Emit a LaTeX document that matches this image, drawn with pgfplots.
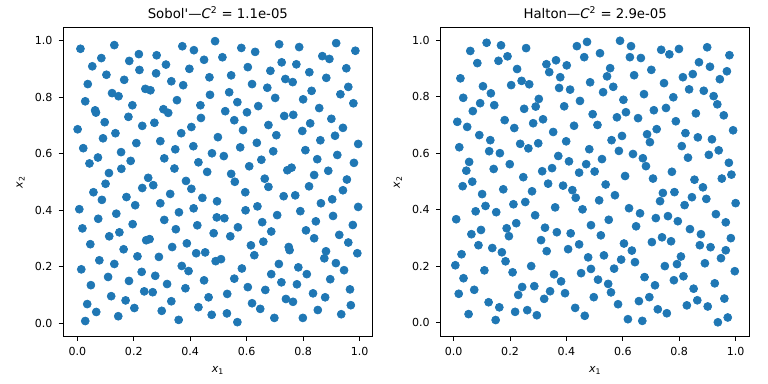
\documentclass[border=0pt]{standalone}
\usepackage{fontspec}
\setmainfont{DejaVu Sans}
\newfontfamily\dvplain{DejaVu Sans}
\usepackage{pgfplots}
\pgfplotsset{compat=1.18}
\definecolor{mplblue}{HTML}{1F77B4}
\pgfplotsset{
  every axis title/.style={at={(axis description cs:0.5,1.0302)}, anchor=base, inner sep=0pt, font=\fontsize{10}{12}\selectfont},
  qmc/.style={
    scale only axis, width=231.8bp, height=231.5bp,
    anchor=south west,
    axis line style={line width=0.8bp, black},
    tick style={line width=0.8bp, black},
    major tick length=3.5bp,
    tick align=outside,
    tick pos=left,
    xtick={0,0.2,0.4,0.6,0.8,1.0},
    ytick={0,0.2,0.4,0.6,0.8,1.0},
    /pgf/number format/.cd, fixed, fixed zerofill, precision=1, assume math mode=true, /pgfplots/.cd,
    ticklabel style={font=\fontsize{8.33}{10}\selectfont},
    xticklabel style={inner sep=0pt, anchor=north, yshift=-4.75bp},
    yticklabel style={inner sep=0pt, anchor=east, xshift=-4.5bp},
    label style={font=\fontsize{8.33}{10}\selectfont},
    xlabel style={at={(axis description cs:0.5,-0.1166)}, anchor=base},
    ylabel style={at={(axis description cs:-0.1316,0.5)}, anchor=base},
    xlabel={\textit{x}\textsubscript{1}},
    ylabel={\textit{x}\textsubscript{2}},
  },
  pts/.style={only marks, color=mplblue, mark=*, mark size=3bp, mark options={fill=mplblue, draw=mplblue, line width=0.5bp}},
}
\begin{document}
\begin{tikzpicture}
\useasboundingbox (0,0) rectangle (576bp,288bp);
\begin{axis}[qmc, at={(47.5bp,35.8bp)},
  xmin=-0.0496, xmax=1.0454, ymin=-0.046, ymax=1.047,
  title={Sobol{\dvplain '}—\textit{C}\textsuperscript{2} = 1.1e-05}]
\addplot[pts] coordinates {
(0.488,0.999) (0.011,0.972) (0.131,0.985) (0.372,0.981) (0.413,0.967) (0.218,0.953) (0.085,0.939) (0.281,0.949) (0.184,0.929) (0.449,0.933) (0.053,0.910) (0.314,0.916) (0.220,0.897) (0.397,0.901) (0.103,0.880) (0.279,0.885) (0.468,0.871) (0.166,0.862) (0.333,0.857) (0.037,0.847) (0.375,0.843) (0.241,0.830) (0.259,0.825) (0.123,0.815) (0.146,0.804) (0.470,0.809) (0.028,0.786) (0.353,0.790) (0.195,0.772) (0.436,0.772) (0.063,0.754) (0.066,0.746) (0.305,0.758) (0.322,0.745) (0.181,0.731) (0.438,0.727) (0.097,0.712) (0.273,0.710) (0.230,0.699) (0.404,0.695) (0.001,0.687) (0.135,0.673) (0.368,0.673) (0.498,0.659) (0.091,0.655) (0.294,0.645) (0.209,0.638) (0.021,0.620) (0.411,0.627) (0.347,0.616) (0.155,0.606) (0.477,0.602) (0.073,0.587) (0.308,0.584) (0.043,0.566) (0.189,0.575) (0.429,0.570) (0.344,0.548) (0.156,0.547) (0.112,0.532) (0.460,0.536) (0.251,0.515) (0.385,0.504)
(0.581,0.975) (0.630,0.961) (0.715,0.988) (0.786,0.978) (0.917,0.992) (0.985,0.965) (0.514,0.942) (0.868,0.946) (0.893,0.936) (0.724,0.924) (0.776,0.917) (0.604,0.907) (0.684,0.894) (0.953,0.903) (0.545,0.878) (0.822,0.889) (0.737,0.865) (0.763,0.854) (0.882,0.869) (0.619,0.847) (0.673,0.834) (0.960,0.837) (0.538,0.818) (0.830,0.823) (0.932,0.811) (0.701,0.798) (0.800,0.793) (0.567,0.783) (0.641,0.769) (0.978,0.779) (0.524,0.751) (0.601,0.747) (0.857,0.762) (0.733,0.734) (0.765,0.738) (0.556,0.719) (0.900,0.724) (0.825,0.708) (0.677,0.702) (0.941,0.692) (0.587,0.684) (0.797,0.681) (0.705,0.666) (0.913,0.664) (0.861,0.648) (0.636,0.639) (0.995,0.635) (0.577,0.623) (0.808,0.613) (0.694,0.609) (0.519,0.592) (0.921,0.596) (0.652,0.579) (0.850,0.581) (0.980,0.568) (0.609,0.556) (0.744,0.542) (0.759,0.551) (0.889,0.540) (0.545,0.529) (0.839,0.525) (0.955,0.509) (0.664,0.512) (0.558,0.501)
(0.057,0.464) (0.100,0.494) (0.230,0.479) (0.269,0.489) (0.404,0.476) (0.329,0.458) (0.443,0.444) (0.495,0.432) (0.087,0.437) (0.174,0.447) (0.205,0.418) (0.294,0.425) (0.412,0.407) (0.007,0.404) (0.360,0.393) (0.138,0.388) (0.074,0.370) (0.308,0.366) (0.494,0.375) (0.196,0.351) (0.425,0.347) (0.018,0.336) (0.349,0.333) (0.149,0.322) (0.113,0.308) (0.483,0.319) (0.046,0.280) (0.244,0.294) (0.256,0.298) (0.388,0.283) (0.336,0.270) (0.164,0.262) (0.421,0.248) (0.453,0.251) (0.213,0.237) (0.289,0.235) (0.078,0.223) (0.490,0.220) (0.131,0.210) (0.370,0.203) (0.394,0.185) (0.014,0.191) (0.228,0.182) (0.276,0.168) (0.109,0.164) (0.449,0.152) (0.048,0.135) (0.183,0.150) (0.318,0.139) (0.383,0.124) (0.237,0.113) (0.267,0.110) (0.120,0.096) (0.465,0.092) (0.171,0.081) (0.333,0.078) (0.035,0.068) (0.202,0.054) (0.429,0.057) (0.067,0.040) (0.299,0.044) (0.476,0.030) (0.145,0.025) (0.359,0.012) (0.028,0.008)
(0.677,0.483) (0.821,0.485) (0.595,0.464) (0.941,0.471) (0.731,0.450) (0.772,0.453) (0.903,0.439) (0.863,0.425) (0.638,0.414) (0.596,0.400) (0.790,0.397) (0.995,0.412) (0.708,0.383) (0.521,0.372) (0.906,0.380) (0.845,0.361) (0.655,0.358) (0.976,0.348) (0.569,0.340) (0.810,0.329) (0.687,0.325) (0.542,0.308) (0.839,0.301) (0.928,0.313) (0.615,0.276) (0.659,0.289) (0.960,0.286) (0.749,0.270) (0.752,0.259) (0.881,0.255) (0.875,0.230) (0.992,0.248) (0.627,0.241) (0.509,0.227) (0.714,0.210) (0.916,0.213) (0.583,0.194) (0.783,0.198) (0.945,0.188) (0.687,0.174) (0.813,0.174) (0.556,0.158) (0.896,0.156) (0.723,0.145) (0.778,0.138) (0.604,0.128) (0.666,0.118) (0.966,0.120) (0.531,0.104) (0.835,0.106) (0.878,0.092) (0.739,0.086) (0.764,0.076) (0.619,0.071) (0.648,0.051) (0.969,0.064) (0.852,0.047) (0.530,0.035) (0.935,0.032) (0.698,0.019) (0.799,0.019) (0.567,0.004)
};
\end{axis}
\begin{axis}[qmc, at={(330.5bp,35.8bp)},
  xmin=-0.046, xmax=1.050, ymin=-0.0485, ymax=1.0447,
  title={Halton—\textit{C}\textsuperscript{2} = 2.9e-05}]
\addplot[pts] coordinates {
(0.117,0.991) (0.168,0.982) (0.059,0.962) (0.257,0.972) (0.437,0.979) (0.473,0.994) (0.191,0.943) (0.159,0.927) (0.084,0.919) (0.463,0.940) (0.329,0.915) (0.363,0.929) (0.401,0.911) (0.225,0.898) (0.339,0.887) (0.024,0.865) (0.378,0.869) (0.241,0.856) (0.268,0.844) (0.484,0.851) (0.204,0.841) (0.104,0.837) (0.374,0.831) (0.413,0.825) (0.132,0.812) (0.034,0.796) (0.302,0.792) (0.448,0.785) (0.094,0.777) (0.144,0.770) (0.291,0.765) (0.392,0.766) (0.068,0.749) (0.250,0.757) (0.493,0.738) (0.181,0.717) (0.317,0.720) (0.013,0.711) (0.282,0.706) (0.048,0.693) (0.215,0.689) (0.427,0.697) (0.353,0.675) (0.091,0.664) (0.130,0.646) (0.399,0.642) (0.236,0.633) (0.265,0.617) (0.300,0.635) (0.020,0.621) (0.481,0.614) (0.126,0.607) (0.164,0.600) (0.371,0.590) (0.055,0.569) (0.409,0.571) (0.470,0.561) (0.199,0.561) (0.045,0.538) (0.142,0.544) (0.314,0.536) (0.349,0.547) (0.445,0.531) (0.500,0.535) (0.247,0.515) (0.066,0.499)
(0.590,0.998) (0.629,0.979) (0.736,0.966) (0.765,0.950) (0.799,0.969) (0.899,0.975) (0.978,0.947) (0.519,0.954) (0.625,0.940) (0.664,0.937) (0.870,0.922) (0.555,0.901) (0.701,0.895) (0.909,0.906) (0.544,0.872) (0.640,0.876) (0.813,0.869) (0.848,0.880) (0.969,0.890) (0.944,0.862) (0.746,0.848) (0.566,0.835) (0.835,0.826) (0.530,0.816) (0.675,0.809) (0.887,0.821) (0.922,0.802) (0.779,0.798) (0.602,0.789) (0.935,0.773) (0.753,0.760) (0.710,0.752) (0.611,0.745) (0.579,0.727) (0.654,0.724) (0.859,0.741) (0.958,0.734) (0.788,0.713) (0.510,0.700) (0.720,0.685) (0.686,0.667) (0.991,0.681) (0.822,0.671) (0.597,0.661) (0.866,0.656) (0.560,0.646) (0.696,0.639) (0.916,0.649) (0.809,0.625) (0.586,0.608) (0.940,0.610) (0.636,0.597) (0.671,0.582) (0.905,0.594) (0.831,0.584) (0.526,0.579) (0.682,0.554) (0.976,0.566) (0.608,0.519) (0.774,0.534) (0.985,0.524) (0.707,0.510) (0.854,0.506) (0.951,0.510)
(0.032,0.483) (0.176,0.472) (0.278,0.465) (0.335,0.492) (0.388,0.485) (0.421,0.469) (0.433,0.442) (0.101,0.455) (0.113,0.413) (0.212,0.419) (0.254,0.427) (0.457,0.401) (0.078,0.394) (0.151,0.391) (0.009,0.366) (0.360,0.408) (0.289,0.380) (0.222,0.352) (0.188,0.334) (0.196,0.306) (0.324,0.336) (0.366,0.320) (0.097,0.328) (0.063,0.313) (0.415,0.316) (0.487,0.345) (0.088,0.274) (0.310,0.292) (0.137,0.264) (0.445,0.277) (0.406,0.260) (0.330,0.253) (0.171,0.249) (0.028,0.242) (0.477,0.231) (0.184,0.217) (0.006,0.203) (0.275,0.200) (0.109,0.185) (0.209,0.178) (0.452,0.175) (0.487,0.190) (0.035,0.157) (0.356,0.171) (0.381,0.146) (0.243,0.126) (0.286,0.129) (0.073,0.116) (0.018,0.102) (0.229,0.098) (0.342,0.111) (0.395,0.104) (0.497,0.090) (0.124,0.072) (0.162,0.054) (0.321,0.084) (0.218,0.038) (0.261,0.044) (0.295,0.026) (0.431,0.052) (0.465,0.024) (0.053,0.030) (0.149,0.009)
(0.539,0.489) (0.572,0.451) (0.516,0.433) (0.742,0.459) (0.732,0.430) (0.783,0.462) (0.884,0.479) (0.845,0.444) (0.896,0.438) (0.819,0.416) (1.000,0.423) (0.622,0.405) (0.661,0.387) (0.930,0.384) (0.550,0.364) (0.717,0.370) (0.760,0.377) (0.795,0.359) (0.965,0.355) (0.647,0.341) (0.838,0.331) (0.877,0.313) (0.522,0.309) (0.739,0.302) (0.771,0.288) (0.703,0.285) (0.983,0.299) (0.604,0.280) (0.873,0.274) (0.911,0.267) (0.632,0.255) (0.965,0.256) (0.533,0.238) (0.806,0.234) (0.594,0.223) (0.643,0.214) (0.792,0.207) (0.749,0.200) (0.891,0.210) (0.948,0.228) (0.569,0.191) (0.997,0.182) (0.677,0.161) (0.815,0.164) (0.781,0.150) (0.512,0.152) (0.548,0.137) (0.714,0.132) (0.926,0.139) (0.851,0.120) (0.558,0.107) (0.694,0.090) (0.657,0.076) (0.864,0.079) (0.960,0.085) (0.583,0.065) (0.827,0.061) (0.901,0.057) (0.724,0.047) (0.756,0.033) (0.972,0.018) (0.937,0.001) (0.618,0.012) (0.669,0.006)
};
\end{axis}
\end{tikzpicture}
\end{document}
